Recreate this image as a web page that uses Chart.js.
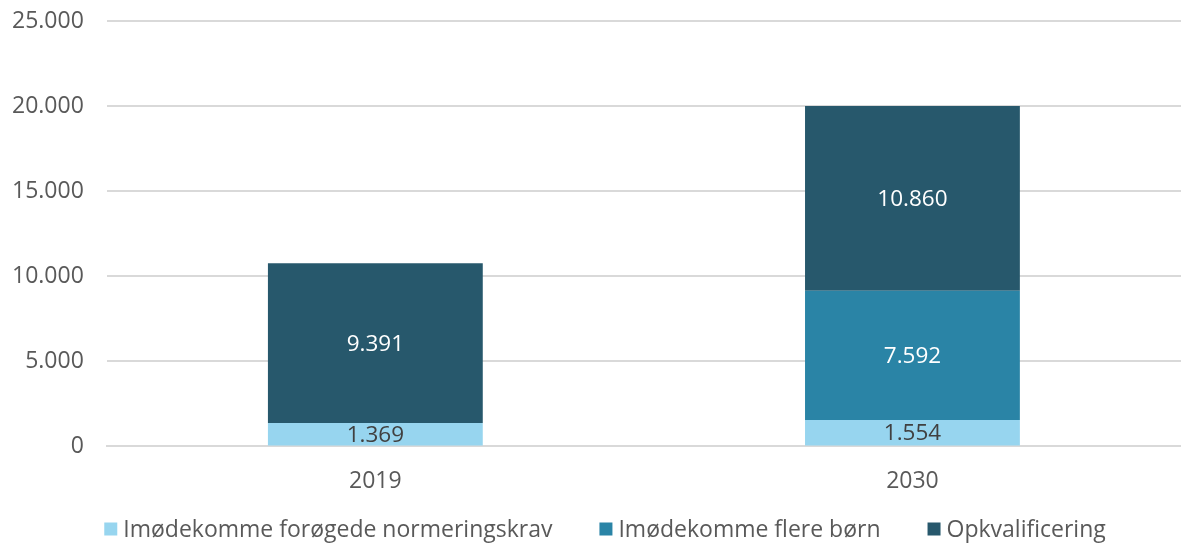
<!DOCTYPE html>
<html>
<head>
<meta charset="utf-8">
<script src="https://cdn.jsdelivr.net/npm/chart.js@4"></script>
<style>
    html, body { margin: 0; padding: 0; background: #fff; }
    #wrap { width: 1181px; height: 544px; }
</style>
</head>
<body>
<div id="wrap"><canvas id="chart"></canvas></div>
<script>
const years = ["2019", "2030"];
const normering = [1369, 1554];
const flereBoern = [0, 7592];
const opkvalificering = [9391, 10860];
const yTicks = [0, 5000, 10000, 15000, 20000, 25000];

const fontFamily = "'Open Sans', 'Noto Sans', sans-serif";
const textColor = "#595959";

const fmt = (v) => v.toLocaleString("da-DK");

// labels drawn in the middle of each stacked segment
const segmentLabels = {
    id: "segmentLabels",
    afterDatasetsDraw(chart) {
        const ctx = chart.ctx;
        ctx.save();
        ctx.font = "22.5px " + fontFamily;
        ctx.textAlign = "center";
        ctx.textBaseline = "middle";
        chart.data.datasets.forEach((ds, i) => {
            const meta = chart.getDatasetMeta(i);
            meta.data.forEach((bar, j) => {
                const v = ds.data[j];
                if (!v) return;
                ctx.fillStyle = ds.labelColor;
                ctx.fillText(fmt(v), bar.x, (bar.y + bar.base) / 2 + 1);
            });
        });
        ctx.restore();
    }
};

// own legend row, so the box/text gaps can match the original
const bottomLegend = {
    id: "bottomLegend",
    afterDraw(chart) {
        const ctx = chart.ctx;
        const box = 13, boxGap = 6, itemGap = 47, y = 529;
        ctx.save();
        ctx.font = "23px " + fontFamily;
        ctx.textBaseline = "middle";
        const items = chart.data.datasets.map((ds) => ({
            text: ds.label,
            color: ds.backgroundColor,
            w: ctx.measureText(ds.label).width
        }));
        const total = items.reduce((s, it) => s + box + boxGap + it.w, 0) + itemGap * (items.length - 1);
        let x = 605 - total / 2;
        items.forEach((it) => {
            ctx.fillStyle = it.color;
            ctx.fillRect(x, y - box / 2, box, box);
            x += box + boxGap;
            ctx.fillStyle = textColor;
            ctx.fillText(it.text, x, y + 1);
            x += it.w + itemGap;
        });
        ctx.restore();
    }
};

new Chart(document.getElementById("chart"), {
    type: "bar",
    data: {
        labels: years,
        datasets: [
            { label: "Imødekomme forøgede normeringskrav", data: normering, backgroundColor: "#97d5ef", labelColor: "#404040" },
            { label: "Imødekomme flere børn", data: flereBoern, backgroundColor: "#2a84a6", labelColor: "#ffffff" },
            { label: "Opkvalificering", data: opkvalificering, backgroundColor: "#27586c", labelColor: "#ffffff" }
        ]
    },
    options: {
        responsive: true,
        maintainAspectRatio: false,
        animation: false,
        layout: { padding: { top: 21, right: 0, left: 12, bottom: 36 } },
        datasets: { bar: { categoryPercentage: 0.8, barPercentage: 0.5 } },
        plugins: {
            legend: { display: false },
            tooltip: { enabled: false }
        },
        scales: {
            x: {
                stacked: true,
                grid: { display: false },
                border: { color: "#d9d9d9", width: 2 },
                ticks: { color: textColor, font: { size: 23, family: fontFamily }, padding: 13 }
            },
            y: {
                stacked: true,
                min: 0,
                max: 25000,
                afterBuildTicks: (axis) => { axis.ticks = yTicks.map((v) => ({ value: v })); },
                grid: { color: "#d9d9d9", lineWidth: 2, drawTicks: true, tickLength: 23, tickColor: "rgba(0,0,0,0)" },
                border: { display: false },
                ticks: { color: textColor, font: { size: 23, family: fontFamily }, padding: 0, callback: (v) => fmt(v) }
            }
        }
    },
    plugins: [segmentLabels, bottomLegend]
});
</script>
</body>
</html>
